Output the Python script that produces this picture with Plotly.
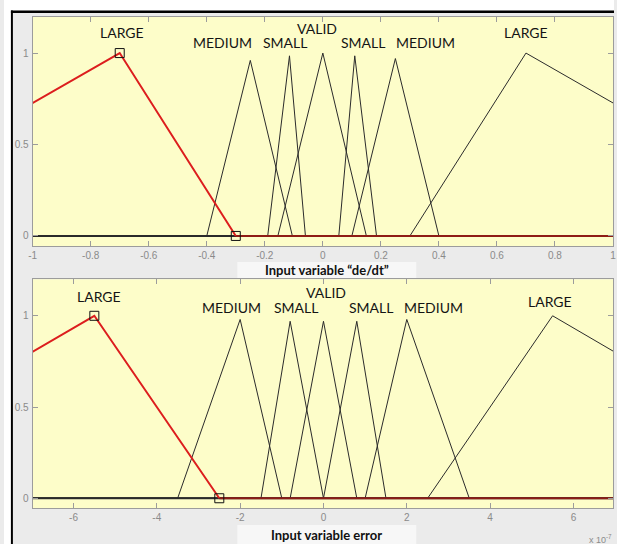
import plotly.graph_objects as go

W, H = 617, 544

# Input variable "de/dt": triangular membership functions [a, b, c]
de_names = ["LARGE", "MEDIUM", "SMALL", "VALID", "SMALL", "MEDIUM", "LARGE"]
de_a = [-1.8, -0.40, -0.19, -0.155, 0.055, 0.10, 0.30]
de_b = [-0.70, -0.25, -0.115, 0.0, 0.11, 0.25, 0.70]
de_c = [-0.30, -0.105, -0.06, 0.15, 0.185, 0.40, 1.8]
de_peak = [1.0, 0.96, 0.985, 1.0, 0.985, 0.97, 1.0]
de_label_x = [-0.693, -0.346, -0.131, -0.019, 0.138, 0.353, 0.700]
de_label_y = [1.11, 1.057, 1.057, 1.133, 1.057, 1.057, 1.11]
de_range = [-1.0, 1.0]
de_tickvals = [-1, -0.8, -0.6, -0.4, -0.2, 0, 0.2, 0.4, 0.6, 0.8, 1]
de_ticktext = ["-1", "-0.8", "-0.6", "-0.4", "-0.2", "0", "0.2", "0.4", "0.6", "0.8", "1"]

# Input variable error (x 10^-7): triangular membership functions [a, b, c]
err_names = ["LARGE", "MEDIUM", "SMALL", "VALID", "SMALL", "MEDIUM", "LARGE"]
err_a = [-13.0, -3.5, -1.5, -0.8, 0.0, 1.0, 2.5]
err_b = [-5.5, -2.0, -0.8, 0.0, 0.8, 2.0, 5.5]
err_c = [-2.5, -1.0, 0.0, 0.8, 1.5, 3.5, 13.0]
err_peak = [1.0, 0.98, 0.97, 0.97, 0.97, 0.98, 1.0]
err_label_x = [-5.39, -2.20, -0.65, 0.05, 1.14, 2.64, 5.43]
err_label_y = [1.106, 1.044, 1.044, 1.128, 1.044, 1.044, 1.077]
err_range = [-6.98, 6.95]
err_tickvals = [-6, -4, -2, 0, 2, 4, 6]
err_ticktext = ["-6", "-4", "-2", "0", "2", "4", "6"]

selected = 0  # highlighted membership function in each panel

y_range = [-0.055, 1.2]
y_tickvals = [0, 0.5, 1]
y_ticktext = ["0", "0.5", "1"]

MF_COLOR = "#2b2b2b"
BASE_COLOR = "#3c3c3c"
SEL_COLOR = "#dc1e1e"
SEL_TAIL = "#8e1c16"
PLOT_BG = "#fdfdc9"
FIG_BG = "#ebebeb"


def px(x):
    return x / W


def py(y):
    return 1 - y / H


fig = go.Figure()


def add_panel(xr, names, a, b, c, peak, xa, ya):
    lo, hi = xr
    # zero level shared by all membership functions over the universe
    fig.add_trace(go.Scatter(
        x=[min(lo, min(a)), max(hi, max(c))], y=[0, 0], mode="lines",
        line=dict(color=BASE_COLOR, width=2),
        xaxis=xa, yaxis=ya, hoverinfo="skip", showlegend=False))
    for i in range(len(names)):
        if i == selected:
            continue
        start = min(lo, a[i])
        end = max(hi, c[i])
        fig.add_trace(go.Scatter(
            x=[start, a[i], b[i], c[i], end], y=[0, 0, peak[i], 0, 0],
            mode="lines", line=dict(color=MF_COLOR, width=1),
            xaxis=xa, yaxis=ya, hoverinfo="skip", showlegend=False))
    i = selected
    end = max(hi, c[i])
    fig.add_trace(go.Scatter(
        x=[c[i], end], y=[0, 0], mode="lines",
        line=dict(color=SEL_TAIL, width=2),
        xaxis=xa, yaxis=ya, hoverinfo="skip", showlegend=False))
    fig.add_trace(go.Scatter(
        x=[a[i], b[i], c[i]], y=[0, peak[i], 0], mode="lines",
        line=dict(color=SEL_COLOR, width=2),
        xaxis=xa, yaxis=ya, hoverinfo="skip", showlegend=False))
    fig.add_trace(go.Scatter(
        x=[b[i], c[i]], y=[peak[i], 0], mode="markers",
        marker=dict(symbol="square-open", size=9, color="#111111",
                    line=dict(width=1, color="#111111")),
        xaxis=xa, yaxis=ya, hoverinfo="skip", showlegend=False))


add_panel(de_range, de_names, de_a, de_b, de_c, de_peak, "x", "y")
add_panel(err_range, err_names, err_a, err_b, err_c, err_peak, "x2", "y2")

tick_font = dict(family="Liberation Sans, Arial, sans-serif", size=10, color="#8a8a8a")
axis_style = dict(showline=True, linecolor="#9c9c9c", linewidth=1, mirror="ticks",
                  ticks="inside", ticklen=5, tickcolor="#9c9c9c", showgrid=False,
                  zeroline=False, tickfont=tick_font, fixedrange=True,
                  ticklabeloverflow="allow")

fig.update_layout(
    width=W, height=H, margin=dict(l=0, r=0, t=0, b=0), autosize=False,
    paper_bgcolor=FIG_BG, plot_bgcolor=PLOT_BG, showlegend=False,
    xaxis=dict(domain=[px(29), px(616)], range=de_range, tickvals=de_tickvals,
               ticktext=de_ticktext, anchor="y", **axis_style),
    yaxis=dict(domain=[py(246), py(16.5)], range=y_range, tickvals=y_tickvals,
               ticktext=y_ticktext, anchor="x", ticklabelstandoff=1, **axis_style),
    xaxis2=dict(domain=[px(29), px(616)], range=err_range, tickvals=err_tickvals,
                ticktext=err_ticktext, anchor="y2", **axis_style),
    yaxis2=dict(domain=[py(508.3), py(279.3)], range=y_range, tickvals=y_tickvals,
                ticktext=y_ticktext, anchor="x2", ticklabelstandoff=1, **axis_style),
)

# window frame: white margin, black border, pale caption boxes
frame = dict(xref="paper", yref="paper", type="rect", layer="below", line=dict(width=0))
shapes = [
    dict(frame, x0=0, x1=1, y0=py(10.5), y1=1, fillcolor="white"),
    dict(frame, x0=0, x1=px(7), y0=0, y1=1, fillcolor="white"),
    dict(frame, x0=px(7), x1=1, y0=py(13), y1=py(10.5), fillcolor="black"),
    dict(frame, x0=px(7), x1=px(9), y0=0, y1=py(10.5), fillcolor="black"),
    dict(frame, x0=px(236), x1=px(417), y0=py(278), y1=py(262), fillcolor="#f7f7f7"),
    dict(frame, x0=px(236), x1=px(417), y0=0, y1=py(525), fillcolor="#f7f7f7"),
]
fig.update_layout(shapes=shapes)

label_font = dict(family="Lato, Noto Sans, sans-serif", size=14, color="#141414")
ann = []
for name, lx, ly in zip(de_names, de_label_x, de_label_y):
    ann.append(dict(x=lx, y=ly, xref="x", yref="y", text=name, showarrow=False,
                    font=label_font, xanchor="center", yanchor="middle"))
for name, lx, ly in zip(err_names, err_label_x, err_label_y):
    ann.append(dict(x=lx, y=ly, xref="x2", yref="y2", text=name, showarrow=False,
                    font=label_font, xanchor="center", yanchor="middle"))

title_font = dict(family="Lato, Noto Sans, sans-serif", size=13, color="#111111")
ann.append(dict(x=px(326.7), y=py(269.5), xref="paper", yref="paper",
                text="<b>Input variable \u201cde/dt\u201d</b>", showarrow=False,
                font=title_font, xanchor="center", yanchor="middle"))
ann.append(dict(x=px(326.7), y=py(535), xref="paper", yref="paper",
                text="<b>Input variable error</b>", showarrow=False,
                font=title_font, xanchor="center", yanchor="middle"))
ann.append(dict(x=px(617), y=py(539), xref="paper", yref="paper",
                text="x 10<sup>-7</sup>", showarrow=False,
                font=dict(family="Liberation Sans, Arial, sans-serif", size=9, color="#8a8a8a"),
                xanchor="right", yanchor="middle"))
fig.update_layout(annotations=ann)

fig.write_html("out.html")
